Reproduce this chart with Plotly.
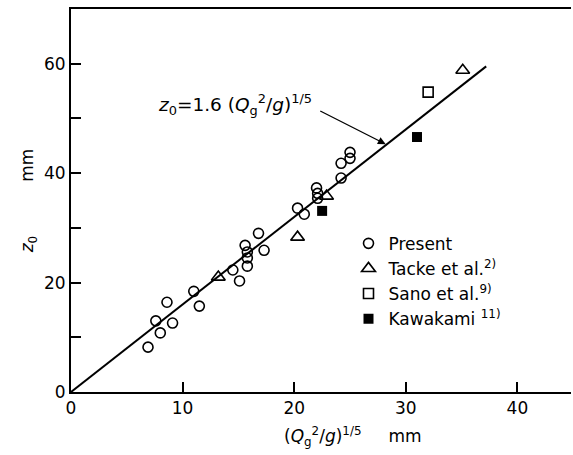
import plotly.graph_objects as go

# ---- data ----
present_x = [6.9, 8.0, 7.6, 9.1, 8.6, 11.0, 11.5, 14.5, 15.1, 15.6, 15.8, 15.8, 15.8,
             16.8, 17.3, 20.3, 20.9, 22.0, 22.1, 22.1, 24.2, 24.2, 25.0, 25.0]
present_y = [8.2, 10.8, 13.0, 12.6, 16.4, 18.4, 15.7, 22.3, 20.3, 26.8, 25.6, 24.5, 23.0,
             29.0, 25.9, 33.6, 32.5, 37.3, 36.3, 35.4, 39.1, 41.8, 43.8, 42.7]
tacke_x = [13.2, 20.3, 22.9, 35.1]
tacke_y = [21.0, 28.3, 35.8, 58.8]
sano_x = [32.0]
sano_y = [54.8]
kawakami_x = [22.5, 31.0]
kawakami_y = [33.1, 46.6]

coef = 1.6
fit_x = [0, 37.2]
fit_y = [coef * v for v in fit_x]

x_ticks = [0, 10, 20, 30, 40]
y_ticks = [0, 20, 40, 60]

FONT = "DejaVu Sans"
BLACK = "black"

fig = go.Figure()
fig.add_trace(go.Scatter(x=fit_x, y=fit_y, mode="lines", line=dict(color=BLACK, width=2),
                         showlegend=False, hoverinfo="skip"))
fig.add_trace(go.Scatter(x=present_x, y=present_y, mode="markers", name="Present",
                         marker=dict(symbol="circle-open", size=10, color=BLACK,
                                     line=dict(width=1.6, color=BLACK))))
fig.add_trace(go.Scatter(x=tacke_x, y=tacke_y, mode="markers", name="Tacke et al.<sup>2)</sup>",
                         marker=dict(symbol="triangle-up-open", size=12, color=BLACK,
                                     line=dict(width=1.6, color=BLACK))))
fig.add_trace(go.Scatter(x=sano_x, y=sano_y, mode="markers", name="Sano et al.<sup>9)</sup>",
                         marker=dict(symbol="square-open", size=10, color=BLACK,
                                     line=dict(width=1.6, color=BLACK))))
fig.add_trace(go.Scatter(x=kawakami_x, y=kawakami_y, mode="markers", name="Kawakami <sup>11)</sup>",
                         marker=dict(symbol="square", size=10, color=BLACK,
                                     line=dict(width=0, color=BLACK))))

# formula annotation and arrow
fig.add_annotation(x=14.7, y=52.6, xref="x", yref="y", showarrow=False,
                   text="<i>z</i><sub>0</sub>=1.6 (<i>Q</i><sub>g</sub><sup>2</sup>/<i>g</i>)<sup>1/5</sup>",
                   font=dict(family=FONT, size=18.5, color=BLACK))
fig.add_annotation(x=28.2, y=45.3, ax=22.2, ay=51.5, xref="x", yref="y", axref="x", ayref="y",
                   text="", showarrow=True, arrowhead=2, arrowsize=1.2, arrowwidth=1.3,
                   arrowcolor=BLACK)
# x-axis title
fig.add_annotation(x=25.3, y=-0.115, xref="x", yref="paper", showarrow=False, yanchor="middle",
                   text="(<i>Q</i><sub>g</sub><sup>2</sup>/<i>g</i>)<sup>1/5</sup>     mm",
                   font=dict(family=FONT, size=17, color=BLACK))

fig.update_layout(
    width=573, height=455,
    margin=dict(l=71, r=2, t=9, b=63),
    paper_bgcolor="white", plot_bgcolor="white",
    font=dict(family=FONT, size=17, color=BLACK),
    showlegend=True,
    legend=dict(x=0.555, y=0.434, xanchor="left", yanchor="top",
                bgcolor="rgba(0,0,0,0)", font=dict(family=FONT, size=17, color=BLACK)),
    xaxis=dict(range=[0, 44.8], tickvals=x_ticks, ticks="inside", ticklen=10, tickwidth=1.5,
               tickcolor=BLACK, showline=True, linecolor=BLACK, linewidth=2, mirror=True,
               showgrid=False, zeroline=False, tickfont=dict(family=FONT, size=17)),
    yaxis=dict(range=[0, 70], tickvals=y_ticks, ticks="inside", ticklen=10, tickwidth=1.5,
               tickcolor=BLACK, showline=True, linecolor=BLACK, linewidth=2,
               minor=dict(dtick=10, ticks="inside", ticklen=10, tickwidth=1.5, tickcolor=BLACK),
               showgrid=False, zeroline=False, tickfont=dict(family=FONT, size=17),
               title=dict(text="<i>z</i><sub>0</sub>          mm", font=dict(family=FONT, size=17),
                          standoff=6)),
)

fig.write_html("out.html")
